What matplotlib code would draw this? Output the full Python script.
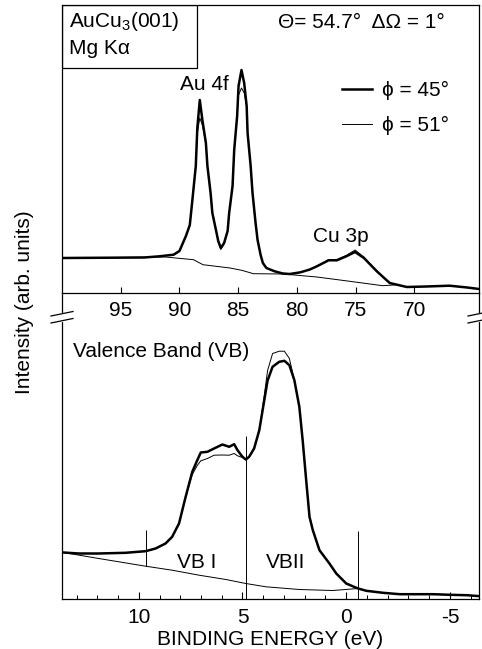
import matplotlib
matplotlib.use('Agg')
import matplotlib.pyplot as plt
from matplotlib.lines import Line2D
from matplotlib.patches import Rectangle

plt.rcParams['font.family'] = ['Liberation Sans', 'DejaVu Sans']
plt.rcParams['mathtext.fontset'] = 'custom'
plt.rcParams['mathtext.rm'] = 'Liberation Sans'
plt.rcParams['font.size'] = 15

# --- Au 4f / Cu 3p core levels (binding energy in eV, intensity arb. units)
core_ev = [100.0, 93.0, 91.7, 90.5, 90.0, 89.45, 89.12, 88.9, 88.61, 88.48, 88.27, 88.05,
           87.75, 87.62, 87.35, 87.2, 86.84, 86.7, 86.48, 86.2, 85.9, 85.77, 85.48, 85.34,
           85.09, 84.97, 84.72, 84.49, 84.28, 84.2, 83.94, 83.78, 83.52, 83.35, 83.09, 82.9,
           82.6, 81.9, 81.2, 80.6, 79.7, 78.9, 78.3, 77.3, 76.6, 75.8, 75.05, 74.3,
           73.2, 72.1, 70.65, 69.0, 67.0, 65.5, 64.5]
core_45 = [35, 35.5, 36.7, 38.3, 42, 57, 68, 93, 127, 165, 193, 173,
           150, 127, 100, 80, 60, 52, 45, 50, 62, 80, 107, 143,
           177, 207, 223, 210, 187, 160, 127, 100, 70, 53, 38, 30,
           25, 21.7, 19.5, 19, 20.7, 23.5, 26.7, 32.7, 32.7, 36.7, 41, 35,
           21.7, 10, 6, 6.5, 7.3, 5.5, 4]
core_51 = [35, 35.5, 36.7, 38.3, 42, 57, 68, 93, 126, 160, 175, 168,
           150, 127, 100, 80, 60, 51, 43.5, 49, 62, 80, 107, 143,
           177, 198, 205, 200, 186, 160, 127, 100, 70, 53, 38, 30,
           25, 21.7, 19.5, 19, 20.7, 23.5, 26.7, 33.5, 33.5, 37.5, 43, 36,
           22, 10, 6, 6.5, 7.3, 5.5, 4]
core_bg_ev = [100.0, 91.2, 88.8, 88.0, 85.7, 84.7, 83.7, 81.2, 78.3, 75.5, 72.7, 71.5]
core_bg = [35, 36, 33.3, 28.3, 25, 22.7, 19.3, 19.0, 16, 11.7, 7.3, 8.2]
core_ticks = [95, 90, 85, 80, 75, 70]

# --- valence band
vb_ev = [13.63, 12.9, 11.93, 10.64, 9.67, 9.19, 8.71, 8.39, 8.06, 7.74, 7.42, 7.18,
         7.01, 6.69, 6.37, 5.97, 5.64, 5.40, 5.24, 5.0, 4.84, 4.68, 4.44, 4.19,
         3.95, 3.79, 3.55, 3.23, 2.98, 2.74, 2.5, 2.26, 2.10, 1.93, 1.77, 1.61,
         1.29, 0.81, 0.48, 0.0, -0.57, -0.97, -1.77, -2.58, -4.19, -5.0, -5.81, -6.45]
vb_45 = [46, 45, 45, 45.7, 47.3, 50, 55, 61.7, 75, 101.7, 126.7, 138.3,
         146, 146.7, 150, 154, 151.7, 154.3, 148.3, 141.7, 139, 141.7, 150, 168.3,
         198.3, 218, 231.7, 236.7, 237.7, 233.3, 218.3, 191.7, 158.3, 118.3, 81.7, 68.3,
         48.3, 35, 25, 15, 10, 7.7, 5.7, 4.3, 4.3, 3.7, 3.3, 2.3]
vb_51 = [46, 45, 45, 45.7, 47.3, 50, 55, 61.7, 75, 101.7, 124, 133,
         137.7, 140, 143.3, 143.5, 143.3, 145, 142.7, 141, 139, 141.7, 150, 168.3,
         203, 228, 245, 247.3, 247.3, 240, 218.3, 191.7, 158.3, 118.3, 81.7, 68.3,
         48.3, 35, 25, 15, 10, 7.7, 5.7, 4.3, 4.3, 3.7, 3.3, 2.3]
vb_bg_ev = [13.63, 11.93, 9.67, 8.39, 7.09, 5.80, 4.84, 3.87, 2.26, 0.65, -0.57]
vb_bg = [46, 40, 32.3, 28.3, 23.3, 19, 15, 11.7, 9, 8, 10]
vb_ticks = [10, 5, 0, -5]
mark_ev = [9.65, 4.84, -0.56]
mark_lo = [32.3, 0, 0]
mark_hi = [68.3, 163, 67.6]

W, H = 482, 649
fig = plt.figure(figsize=(W / 100, H / 100), dpi=100)


def fx(px):
    return px / W


def fy(py):
    return 1 - py / H


L, R = 62, 479
ax_top = fig.add_axes([fx(L), fy(293), fx(R) - fx(L), fy(5) - fy(293)])
ax_bot = fig.add_axes([fx(L), fy(598.5), fx(R) - fx(L), fy(293) - fy(598.5)])
ax_bot.patch.set_visible(False)

# top panel
ax_top.plot(core_ev, core_51, color='k', lw=0.7, label='ϕ = 51°')
ax_top.plot(core_ev, core_45, color='k', lw=1.8, label='ϕ = 45°')
ax_top.plot(core_bg_ev, core_bg, color='k', lw=0.7)
ax_top.set_xlim(100.0, 64.5)
ax_top.set_ylim(0, 288)
ax_top.set_xticks(core_ticks)
ax_top.set_yticks([])
ax_top.tick_params(axis='x', direction='in', length=4, width=0.8, pad=6, labelsize=15)
for s in ax_top.spines.values():
    s.set_linewidth(0.9)

ax_top.add_patch(Rectangle((0, 0.781), 0.324, 0.219, transform=ax_top.transAxes,
                           fill=False, lw=0.9, color='k'))
ax_top.text(0.017, 0.941, 'AuCu$_3$(001)', transform=ax_top.transAxes, va='center', ha='left')
ax_top.text(0.017, 0.848, 'Mg Kα', transform=ax_top.transAxes, va='center', ha='left')
ax_top.text(0.517, 0.9375, 'Θ= 54.7°  ΔΩ = 1°', transform=ax_top.transAxes,
            va='center', ha='left')
ax_top.text(87.9, 208, 'Au 4f', ha='center', va='center')
ax_top.text(76.25, 57, 'Cu 3p', ha='center', va='center')

handles = [Line2D([], [], color='k', lw=1.8), Line2D([], [], color='k', lw=0.7)]
ax_top.legend(handles, ['ϕ = 45°', 'ϕ = 51°'], loc='upper left',
              bbox_to_anchor=(0.671, 0.735), frameon=False, handlelength=1.45,
              handletextpad=0.5, labelspacing=0.75, borderpad=0, borderaxespad=0,
              fontsize=15)

# bottom panel
ax_bot.plot(vb_ev, vb_51, color='k', lw=0.7)
ax_bot.plot(vb_ev, vb_45, color='k', lw=1.8)
ax_bot.plot(vb_bg_ev, vb_bg, color='k', lw=0.7)
ax_bot.vlines(mark_ev, mark_lo, mark_hi, color='k', lw=0.7)
ax_bot.set_xlim(13.7, -6.4)
ax_bot.set_ylim(0, 305.5)
ax_bot.set_xticks(vb_ticks)
ax_bot.set_xticklabels(['10', '5', '0', '-5'])
ax_bot.set_xticks(range(-6, 14), minor=True)
ax_bot.set_yticks([])
ax_bot.tick_params(axis='x', which='major', direction='in', length=5, width=0.8,
                   pad=7, labelsize=15)
ax_bot.tick_params(axis='x', which='minor', direction='in', length=3, width=0.7)
ax_bot.spines['top'].set_visible(False)
for s in ['left', 'right', 'bottom']:
    ax_bot.spines[s].set_linewidth(0.9)
ax_bot.set_xlabel('BINDING ENERGY (eV)', fontsize=15, labelpad=2)
ax_bot.text(0.026, 0.807, 'Valence Band (VB)', transform=ax_bot.transAxes,
            va='center', ha='left')
ax_bot.text(7.19, 36.3, 'VB I', ha='center', va='center')
ax_bot.text(2.94, 36.3, 'VBII', ha='center', va='center')

# axis break marks on both sides
for x0 in (L, R):
    fig.add_artist(Line2D([fx(x0), fx(x0)], [fy(314.5), fy(319.5)], color='white', lw=3))
    for y0 in (316, 323):
        fig.add_artist(Line2D([fx(x0 - 11), fx(x0 + 11)], [fy(y0), fy(y0 - 4.5)],
                              color='k', lw=0.9))

fig.text(fx(25), fy(302), 'Intensity (arb. units)', rotation=90, ha='center', va='center')

fig.savefig('out.png', dpi=100)
